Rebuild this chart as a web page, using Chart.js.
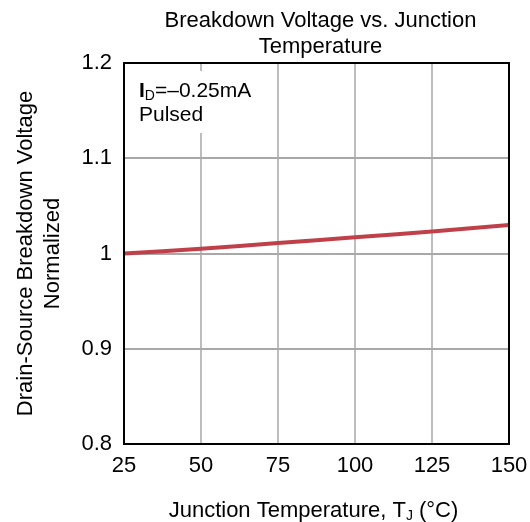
<!DOCTYPE html>
<html lang="en">
<head>
    <meta charset="UTF-8">
    <title>Breakdown Voltage vs. Junction Temperature</title>
    <script src="https://cdn.jsdelivr.net/npm/chart.js"></script>
    <style>
        html, body {
            margin: 0;
            padding: 0;
            background: #ffffff;
        }
        .chart-box {
            width: 530px;
            height: 522px;
        }
    </style>
</head>
<body>
    <div class="chart-box">
        <canvas id="bvChart"></canvas>
    </div>

    <script>
        // Data
        const temps = [25, 50, 75, 100, 125, 150];
        const bvNorm = [1.0, 1.005, 1.011, 1.017, 1.023, 1.03];
        const xTicks = [25, 50, 75, 100, 125, 150];
        const yTicks = [0.8, 0.9, 1.0, 1.1, 1.2];

        const FONT = "'Liberation Sans', Arial, sans-serif";

        // Title, axis titles and the note are drawn by hand (subscripts)
        const textPlugin = {
            id: 'textPlugin',
            beforeDatasetsDraw(chart) {
                const { ctx, chartArea } = chart;
                // white box behind the note, it cuts the grid line
                ctx.save();
                ctx.fillStyle = '#ffffff';
                ctx.fillRect(chartArea.left + 10, chartArea.top + 8, 130, 62);
                ctx.restore();
            },
            afterDraw(chart) {
                const { ctx, chartArea } = chart;
                const cx = (chartArea.left + chartArea.right) / 2;
                ctx.save();
                ctx.fillStyle = '#000000';

                // title
                ctx.font = '22px ' + FONT;
                ctx.textAlign = 'center';
                ctx.textBaseline = 'alphabetic';
                ctx.fillText('Breakdown Voltage vs. Junction', cx + 4, 27);
                ctx.fillText('Temperature', cx + 4, 53);

                // y axis title
                ctx.save();
                ctx.translate(32, (chartArea.top + chartArea.bottom) / 2);
                ctx.rotate(-Math.PI / 2);
                ctx.fillText('Drain-Source Breakdown Voltage', 0, 0);
                ctx.fillText('Normalized', 0, 27);
                ctx.restore();

                // x axis title with subscript J
                ctx.textAlign = 'left';
                const t1 = 'Junction Temperature, T';
                const t2 = ' (°C)';
                ctx.font = '22px ' + FONT;
                const w1 = ctx.measureText(t1).width;
                const w2 = ctx.measureText(t2).width;
                ctx.font = '14px ' + FONT;
                const ws = ctx.measureText('J').width;
                let x = cx - 3 - (w1 + ws + w2) / 2;
                const y = 517;
                ctx.font = '22px ' + FONT;
                ctx.fillText(t1, x, y);
                x += w1;
                ctx.font = '14px ' + FONT;
                ctx.fillText('J', x, y + 3);
                x += ws;
                ctx.font = '22px ' + FONT;
                ctx.fillText(t2, x, y);

                // note: I_D = -0.25mA, Pulsed
                let nx = chartArea.left + 15;
                const ny = chartArea.top + 34;
                ctx.font = 'bold 21px ' + FONT;
                ctx.fillText('I', nx, ny);
                nx += ctx.measureText('I').width;
                ctx.font = '14px ' + FONT;
                ctx.fillText('D', nx, ny + 3);
                nx += ctx.measureText('D').width;
                ctx.font = '21px ' + FONT;
                ctx.fillText('=\u20130.25mA', nx, ny);
                ctx.fillText('Pulsed', chartArea.left + 15, ny + 24);

                // plot frame
                ctx.strokeStyle = '#000000';
                ctx.lineWidth = 2;
                ctx.strokeRect(chartArea.left, chartArea.top,
                    chartArea.right - chartArea.left, chartArea.bottom - chartArea.top);
                ctx.restore();
            }
        };

        const ctx = document.getElementById('bvChart').getContext('2d');
        new Chart(ctx, {
            type: 'line',
            data: {
                datasets: [{
                    data: temps.map((t, i) => ({ x: t, y: bvNorm[i] })),
                    borderColor: '#c0404a',
                    borderWidth: 4,
                    pointRadius: 0,
                    tension: 0.2,
                    fill: false
                }]
            },
            options: {
                responsive: true,
                maintainAspectRatio: false,
                animation: false,
                layout: {
                    padding: { top: 63, right: 21, bottom: 0, left: 0 }
                },
                plugins: {
                    legend: { display: false },
                    tooltip: { enabled: false }
                },
                scales: {
                    x: {
                        type: 'linear',
                        min: 25,
                        max: 150,
                        afterBuildTicks: s => { s.ticks = xTicks.map(v => ({ value: v })); },
                        afterFit: s => { s.height = 78; s.paddingRight = 0; s.paddingLeft = 0; },
                        grid: {
                            color: '#bdbdbd',
                            lineWidth: 2,
                            drawTicks: false
                        },
                        border: { display: false },
                        ticks: {
                            color: '#000000',
                            padding: 9,
                            maxRotation: 0,
                            font: { family: FONT, size: 22 }
                        }
                    },
                    y: {
                        min: 0.8,
                        max: 1.2,
                        afterBuildTicks: s => { s.ticks = yTicks.map(v => ({ value: v })); },
                        afterFit: s => { s.width = 124; s.paddingTop = 0; s.paddingBottom = 0; },
                        grid: {
                            color: '#a8a8a8',
                            lineWidth: 2,
                            drawTicks: false
                        },
                        border: { display: false },
                        ticks: {
                            color: '#000000',
                            padding: 12,
                            font: { family: FONT, size: 22 },
                            callback: v => Number(v.toFixed(1)) === 1 ? '1' : v.toFixed(1)
                        }
                    }
                }
            },
            plugins: [textPlugin]
        });
    </script>
</body>
</html>
